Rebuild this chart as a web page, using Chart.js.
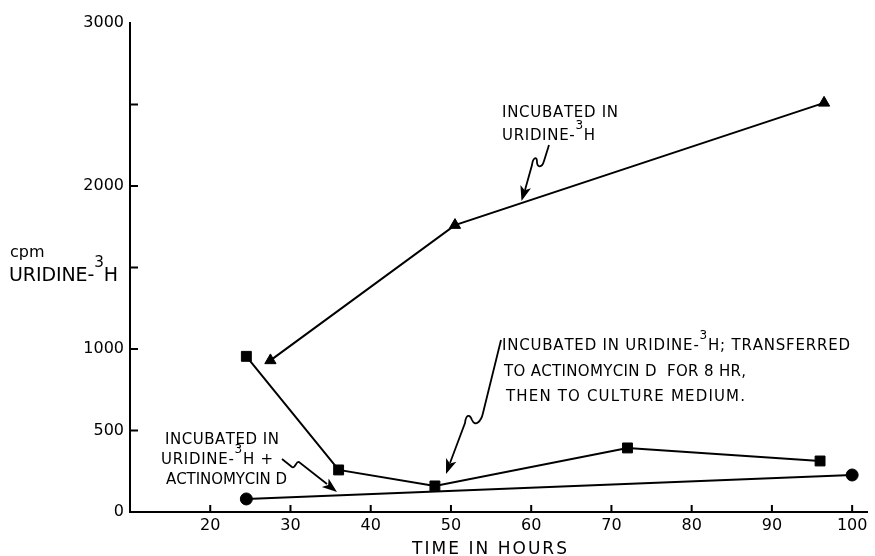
<!DOCTYPE html>
<html>

<head>
    <meta charset="utf-8" />
    <style>
        body { margin: 0; background: #fff; }
    </style>
</head>

<body>
    <canvas id="uridineChart" width="875" height="556"></canvas>

    <script src="https://cdn.jsdelivr.net/npm/chart.js@4.4.0/dist/chart.umd.min.js"></script>

    <script>
        // incubated in uridine-3H (triangles)
        let triHours = [27.5, 50.5, 96.5];
        let triCpm = [930, 1760, 2510];
        // transferred to actinomycin D for 8 hr (squares)
        let sqHours = [24.5, 36, 48, 72, 96];
        let sqCpm = [955, 258, 160, 393, 313];
        // uridine-3H + actinomycin D (circles)
        let circHours = [24.5, 100];
        let circCpm = [80, 227];

        let xTicks = [20, 30, 40, 50, 60, 70, 80, 90, 100];
        let xTickLabels = ['20', '30', '40', '50', '60', '70', '80', '90', '100'];
        let yTicks = [0, 500, 1000, 1500, 2000, 2500, 3000];
        let yTickLabels = ['0', '500', '1000', '', '2000', '', '3000'];

        function pairs(xs, ys) {
            return xs.map((v, i) => ({ x: v, y: ys[i] }));
        }

        // draw text char by char; parts: [text, isSuperscript]; width null = natural spacing
        function spreadText(ctx, parts, x, y, width, size) {
            let chars = [];
            parts.forEach(p => {
                for (let ch of p[0]) chars.push({ ch: ch, sup: p[1] });
            });
            let natural = 0;
            chars.forEach(c => {
                ctx.font = (c.sup ? size * 0.8 : size) + 'px "DejaVu Sans"';
                c.w = ctx.measureText(c.ch).width;
                natural += c.w;
            });
            let gap = 0;
            if (width && chars.length > 1) gap = (width - natural) / (chars.length - 1);
            let cx = x;
            chars.forEach(c => {
                ctx.font = (c.sup ? size * 0.8 : size) + 'px "DejaVu Sans"';
                ctx.fillText(c.ch, cx, c.sup ? y - size * 0.75 : y);
                cx += c.w + gap;
            });
        }

        function arrowHead(ctx, fx, fy, tx, ty) {
            let a = Math.atan2(ty - fy, tx - fx);
            let len = 15, half = 5.5;
            ctx.beginPath();
            ctx.moveTo(tx, ty);
            ctx.lineTo(tx - len * Math.cos(a) + half * Math.sin(a), ty - len * Math.sin(a) - half * Math.cos(a));
            ctx.lineTo(tx - len * 0.75 * Math.cos(a), ty - len * 0.75 * Math.sin(a));
            ctx.lineTo(tx - len * Math.cos(a) - half * Math.sin(a), ty - len * Math.sin(a) + half * Math.cos(a));
            ctx.closePath();
            ctx.fill();
        }

        let decorPlugin = {
            id: 'decor',
            afterDraw(chart) {
                let ctx = chart.ctx;
                let xs = chart.scales.x, ys = chart.scales.y;
                ctx.save();
                ctx.strokeStyle = '#000';
                ctx.fillStyle = '#000';
                ctx.lineWidth = 2;

                // inward tick marks
                ctx.beginPath();
                yTicks.forEach(v => {
                    if (v === 0 || v === 3000) return;
                    let py = ys.getPixelForValue(v);
                    ctx.moveTo(xs.left, py);
                    ctx.lineTo(xs.left + 8, py);
                });
                xTicks.forEach(v => {
                    let px = xs.getPixelForValue(v);
                    ctx.moveTo(px, ys.bottom);
                    ctx.lineTo(px, ys.bottom - 7);
                });
                ctx.stroke();

                ctx.textBaseline = 'alphabetic';
                ctx.textAlign = 'left';

                // axis titles
                spreadText(ctx, [['cpm', false]], 10, 257, null, 16);
                spreadText(ctx, [['URIDINE-', false], ['3', true], ['H', false]], 9, 281, 109, 19);
                spreadText(ctx, [['TIME IN HOURS', false]], 412, 554, 155, 17);

                // annotations
                spreadText(ctx, [['INCUBATED IN', false]], 502, 117, 116, 15);
                spreadText(ctx, [['URIDINE-', false], ['3', true], ['H', false]], 502, 140, 93, 15);

                spreadText(ctx, [['INCUBATED IN URIDINE-', false], ['3', true], ['H; TRANSFERRED', false]], 502, 350, 348, 15);
                spreadText(ctx, [['TO ACTINOMYCIN D  FOR 8 HR,', false]], 504, 376, 242, 15);
                spreadText(ctx, [['THEN TO CULTURE MEDIUM.', false]], 506, 401, 239, 15);

                spreadText(ctx, [['INCUBATED IN', false]], 165, 444, 114, 15);
                spreadText(ctx, [['URIDINE-', false], ['3', true], ['H +', false]], 161, 464, 112, 15);
                spreadText(ctx, [['ACTINOMYCIN D', false]], 166, 484, 121, 15);

                // wavy arrows
                ctx.lineWidth = 1.8;
                ctx.beginPath();
                ctx.moveTo(549, 145);
                ctx.lineTo(544, 161);
                ctx.bezierCurveTo(542, 168, 537, 168, 537, 162);
                ctx.bezierCurveTo(537, 156, 533, 157, 532, 165);
                ctx.lineTo(525, 190);
                ctx.stroke();
                arrowHead(ctx, 532, 165, 521.5, 201);

                ctx.beginPath();
                ctx.moveTo(501, 340);
                ctx.lineTo(483, 413);
                ctx.bezierCurveTo(481, 422, 475, 427, 472, 420);
                ctx.bezierCurveTo(470, 414, 466, 414, 465, 423);
                ctx.lineTo(450, 463);
                ctx.stroke();
                arrowHead(ctx, 465, 423, 446, 474);

                ctx.beginPath();
                ctx.moveTo(282, 459);
                ctx.lineTo(292, 467);
                ctx.bezierCurveTo(295, 469, 296, 461, 299, 462);
                ctx.lineTo(327, 484);
                ctx.stroke();
                arrowHead(ctx, 299, 462, 337, 492);

                ctx.restore();
            }
        };

        let lineStyle = {
            showLine: true,
            borderColor: '#000',
            backgroundColor: '#000',
            borderWidth: 2,
            pointBorderWidth: 1,
            pointBorderColor: '#000',
            pointBackgroundColor: '#000'
        };

        let chartCtx = document.getElementById('uridineChart');
        let uridineChart = new Chart(chartCtx, {
            type: 'scatter',
            data: {
                datasets: [
                    Object.assign({ label: 'Incubated in uridine-3H', data: pairs(triHours, triCpm), pointStyle: 'triangle', pointRadius: 6.5 }, lineStyle),
                    Object.assign({ label: 'Transferred to actinomycin D', data: pairs(sqHours, sqCpm), pointStyle: 'rect', pointRadius: 7 }, lineStyle),
                    Object.assign({ label: 'Uridine-3H + actinomycin D', data: pairs(circHours, circCpm), pointStyle: 'circle', pointRadius: 6 }, lineStyle)
                ]
            },
            plugins: [decorPlugin],
            options: {
                responsive: false,
                animation: false,
                layout: { padding: { top: 23, left: 0, right: 0, bottom: 0 } },
                plugins: {
                    legend: { display: false },
                    tooltip: { enabled: false }
                },
                scales: {
                    x: {
                        type: 'linear',
                        min: 10,
                        max: 101.85,
                        afterBuildTicks: s => { s.ticks = xTicks.map(v => ({ value: v })); },
                        afterFit: s => { s.height = 44; },
                        grid: { display: false, drawTicks: false },
                        border: { display: true, color: '#000', width: 2 },
                        ticks: {
                            color: '#000',
                            padding: 4,
                            maxRotation: 0,
                            autoSkip: false,
                            font: { family: 'DejaVu Sans', size: 16 },
                            callback: (v, i) => xTickLabels[i]
                        }
                    },
                    y: {
                        type: 'linear',
                        min: 0,
                        max: 3000,
                        afterBuildTicks: s => { s.ticks = yTicks.map(v => ({ value: v })); },
                        afterFit: s => { s.width = 130; },
                        grid: { display: false, drawTicks: false },
                        border: { display: true, color: '#000', width: 2 },
                        ticks: {
                            color: '#000',
                            padding: 6,
                            autoSkip: false,
                            font: { family: 'DejaVu Sans', size: 16 },
                            callback: (v, i) => yTickLabels[i]
                        }
                    }
                }
            }
        });
    </script>
</body>

</html>
